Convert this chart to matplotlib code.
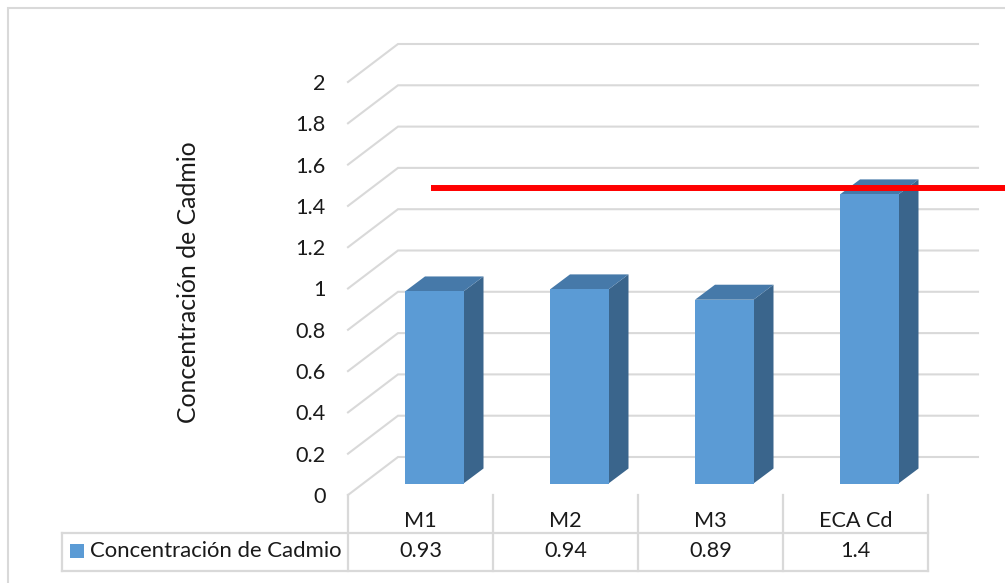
import matplotlib
matplotlib.use("Agg")
import matplotlib.pyplot as plt
from matplotlib.patches import Polygon, Rectangle
from matplotlib.transforms import blended_transform_factory

categories = ["M1", "M2", "M3", "ECA Cd"]
cadmium = [0.93, 0.94, 0.89, 1.4]
y_ticks = [0, 0.2, 0.4, 0.6, 0.8, 1, 1.2, 1.4, 1.6, 1.8, 2]
y_tick_labels = ["0", "0.2", "0.4", "0.6", "0.8", "1", "1.2", "1.4", "1.6", "1.8", "2"]
value_labels = ["0.93", "0.94", "0.89", "1.4"]
series_name = "Concentración de Cadmio"
limit_value = 1.4

W, H = 1005, 583
GRID = "#D9D9D9"
FRONT, SIDE, TOP = "#5B9BD5", "#3A658C", "#4679A9"
INK = "#1A1A1A"
FONT = "Lato"
FS = 15.6
FS_KEY = 15.9
FS_TITLE = 17.8

plt.rcParams["font.family"] = [FONT, "DejaVu Sans"]
fig = plt.figure(figsize=(W / 100, H / 100), dpi=100, facecolor="white")

# Overlay in pixel units for the chart frame and data-table rules
ov = fig.add_axes([0, 0, 1, 1], zorder=0)
ov.set_xlim(0, W)
ov.set_ylim(H, 0)
ov.axis("off")

# Front plane of the 3-D box: 4 categories wide, value 0 to 2 tall
L, R, Y0, Y2 = 348, 928, 495, 82
ax = fig.add_axes([L / W, 1 - Y0 / H, (R - L) / W, (Y0 - Y2) / H], zorder=1)
ax.set_xlim(0, 4)
ax.set_ylim(0, 2)
ax.patch.set_alpha(0)
for s in ax.spines.values():
    s.set_visible(False)

px_x = 4 / (R - L)
px_y = 2 / (Y0 - Y2)

# Box depth, bar depth and the bar's placement on the floor
box_dx, box_dy = 50 * px_x, 38 * px_y
bar_dx, bar_dy = 20 * px_x, 15 * px_y
bar_w = 58.5 * px_x
near_dx, near_dy = 13.75 * px_x, 11.5 * px_y

# Side wall and back wall gridlines
for v in y_ticks:
    ax.plot([0, box_dx, 4 + box_dx], [v, v + box_dy, v + box_dy],
            color=GRID, lw=1.5, clip_on=False, zorder=1, solid_joinstyle="miter")

# Extruded bars
for i, v in enumerate(cadmium):
    x0 = i + 0.5 + near_dx - bar_w / 2
    x1 = x0 + bar_w
    b = near_dy
    t = v + near_dy
    ax.add_patch(Polygon([(x1, b), (x1 + bar_dx, b + bar_dy), (x1 + bar_dx, t + bar_dy), (x1, t)],
                         fc=SIDE, ec="none", clip_on=False, zorder=3))
    ax.add_patch(Polygon([(x0, t), (x1, t), (x1 + bar_dx, t + bar_dy), (x0 + bar_dx, t + bar_dy)],
                         fc=TOP, ec="none", clip_on=False, zorder=3))
    ax.add_patch(Rectangle((x0, b), bar_w, v, fc=FRONT, ec="none", clip_on=False, zorder=4))

# Limit line inside the bar's depth, running off the right edge
limit_y = limit_value + near_dy + bar_dy * 0.45
limit_x0 = (431 - L) * px_x
limit_x1 = (W + 5 - L) * px_x
ax.plot([limit_x0, limit_x1], [limit_y, limit_y], color="#FF0000", lw=4.3,
        solid_capstyle="butt", clip_on=False, zorder=6)

# Axes ticks and labels
ax.set_yticks(y_ticks)
ax.set_yticklabels(y_tick_labels, fontsize=FS, color=INK)
ax.set_xticks([i + 0.5 for i in range(len(categories))])
ax.set_xticklabels(categories, fontsize=FS, color=INK)
ax.tick_params(axis="y", length=0, pad=16)
ax.tick_params(axis="x", length=0, pad=11.5)
ax.set_ylabel(series_name, fontsize=FS_TITLE, color=INK, labelpad=0)
ax.yaxis.set_label_coords(-(L - 200) / (R - L), (Y0 - 282) / (Y0 - Y2))

# Data table values
trans = blended_transform_factory(ax.transData, ov.transData)
for i, lab in enumerate(value_labels):
    ax.text(i + 0.5, 551, lab, transform=trans, ha="center", va="center",
            fontsize=FS, color=INK, clip_on=False)

# Chart frame, open on the right and bottom
ov.plot([7.5, 7.5, W], [H, 8, 8], color=GRID, lw=1.5, solid_joinstyle="miter")

# Data-table rules
ov.plot([62, R], [532.5, 532.5], color=GRID, lw=1.6)
ov.plot([62, R], [570.5, 570.5], color=GRID, lw=1.6)
ov.plot([62, 62], [532.5, 570.5], color=GRID, lw=1.6)
for i in range(len(categories) + 1):
    xp = L + i * (R - L) / len(categories)
    ov.plot([xp, xp], [495, 570.5], color=GRID, lw=1.6)

# Legend key inside the table
ov.add_patch(Rectangle((70, 544), 14, 14, fc=FRONT, ec="none"))
ov.text(90, 551, series_name, ha="left", va="center", fontsize=FS_KEY, color=INK)

fig.savefig("out.png", dpi=100, facecolor="white")
